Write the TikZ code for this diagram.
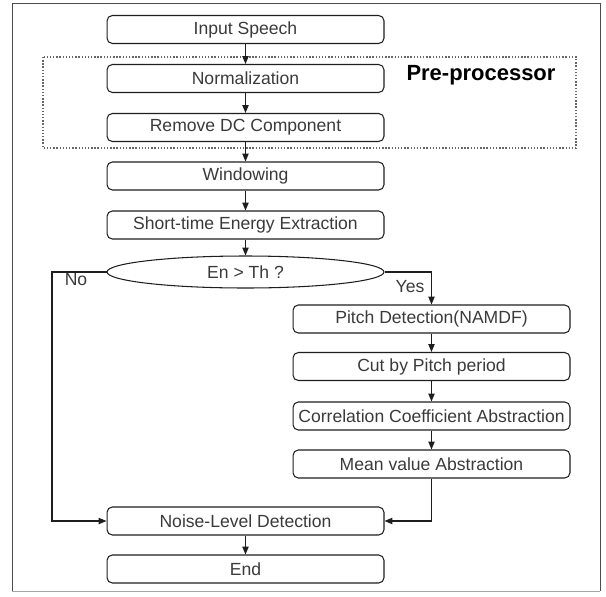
\documentclass[tikz,border=0pt]{standalone}
\usepackage{fontspec}
\setmainfont{Liberation Sans}
\usetikzlibrary{arrows.meta,positioning,shapes.geometric}
\definecolor{FlowLine}{HTML}{1E1E1E}
\definecolor{FlowText}{HTML}{3A3A3A}

\begin{document}
\begin{tikzpicture}[x=0.02cm, y=-0.02cm, >={Triangle[length=4.5pt,width=3.6pt]},
   font=\fontsize{10}{12}\selectfont,
   box/.style={draw=FlowLine, semithick, rounded corners=3pt, minimum width=5.54cm, minimum height=0.56cm,
               inner sep=1pt, text=FlowText, align=center},
   cond/.style={draw=FlowLine, semithick, ellipse, minimum width=5.54cm, minimum height=0.64cm,
               inner sep=0pt, text=FlowText},
   flow/.style={->, FlowLine, semithick}]
  \useasboundingbox (0,0) rectangle (606,596);
  % frame and pre-processor group
  \draw[black!70] (12,591) -- (12,3) -- (600,3) -- (600,591);
  \draw[black!35] (12,591) -- (600,591);
  \draw[black!60, densely dotted, thick] (43,57) rectangle (576,148);
  \node[font=\fontsize{12.5}{14}\bfseries\selectfont] (pre) at (481,75) {Pre-processor};
  % left column
  \node[box] (in)    at (245.5,29.5) {Input Speech};
  \node[box] (norm)  at (245.5,78.5) {Normalization};
  \node[box] (dc)    at (245.5,127.5) {Remove DC Component};
  \node[box] (win)   at (245.5,176) {Windowing};
  \node[box] (ste)   at (245.5,225) {Short-time Energy Extraction};
  \node[cond] (dec)  at (245.5,272) {En > Th ?};
  % right column
  \node[box] (pitch) at (431.5,319) {Pitch Detection(NAMDF)};
  \node[box] (cut)   at (431.5,366.5) {Cut by Pitch period};
  \node[box] (corr)  at (431.5,416) {Correlation Coefficient Abstraction};
  \node[box] (mean)  at (431.5,464) {Mean value Abstraction};
  % bottom
  \node[box] (noise) at (245.5,521) {Noise-Level Detection};
  \node[box] (end)   at (245.5,569) {End};
  \node[text=FlowText] (no)  at (76,280) {No};
  \node[text=FlowText] (yes) at (410,287) {Yes};
  \coordinate (nobend) at (52,272);
  \draw[flow] (in) -- (norm);
  \draw[flow] (norm) -- (dc);
  \draw[flow] (dc) -- (win);
  \draw[flow] (win) -- (ste);
  \draw[flow] (ste) -- (dec);
  \draw[flow] (dec.west) -- (nobend) |- (noise.west);
  \draw[flow] (dec.east) -| (pitch.north);
  \draw[flow] (pitch) -- (cut);
  \draw[flow] (cut) -- (corr);
  \draw[flow] (corr) -- (mean);
  \draw[flow] (mean.south) |- (noise.east);
  \draw[flow] (noise) -- (end);
\end{tikzpicture}
\end{document}
